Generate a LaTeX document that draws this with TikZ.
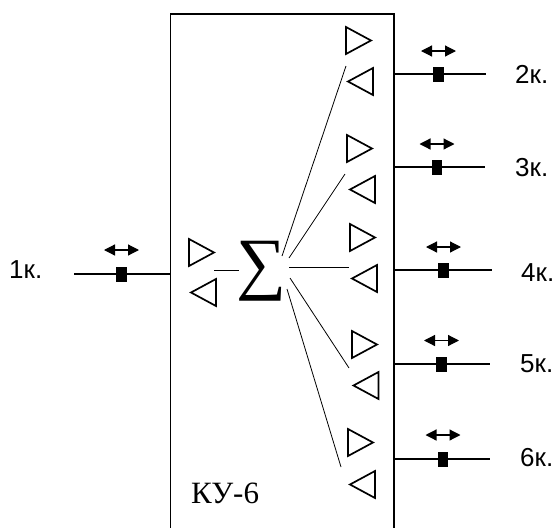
\documentclass[tikz,border=0pt]{standalone}
\usepackage{graphicx}
\usepackage{fontspec}
\setmainfont{Liberation Sans}
\newfontfamily\serifcyr{Liberation Serif}
\usetikzlibrary{arrows.meta}
\tikzset{
  wall/.style={draw=black,line width=1.8pt},
  tri/.style={draw=black,line width=1.7pt,line join=miter},
  ray/.style={draw=black,line width=0.8pt},
  feed/.style={draw=black,line width=1.5pt},
  dirarrow/.style={draw=black,line width=1.2pt,{Triangle[length=11pt,width=11pt]}-{Triangle[length=11pt,width=11pt]}},
  sq/.style={fill=black,draw=none,minimum width=10.5pt,minimum height=15pt,inner sep=0pt},
  portlabel/.style={font=\fontsize{26}{28}\selectfont,inner sep=0pt,anchor=west,text=black},
}
% right pointing triangle: x, top y
\newcommand{\rtri}[2]{\draw[tri] (#1,#2) -- ++(25,13.5) -- ++(-25,13.5) -- cycle;}
\newcommand{\ltri}[2]{\draw[tri] (#1,#2) -- ++(-25,13.5) -- ++(25,13.5) -- cycle;}
% name, wall-end x, line end x, y, square x, arrow y, label position, label
\newcommand{\port}[8]{%
  \coordinate (#1wall) at (#2,#4);
  \coordinate (#1end) at (#3,#4);
  \node[sq] (#1sq) at (#5,#4) {};
  \draw[feed] (#1wall) -- (#1sq) -- (#1end);
  \coordinate (#1al) at (#5-17.5,#6);
  \coordinate (#1ar) at (#5+17.5,#6);
  \draw[dirarrow] (#1al) -- (#1ar);
  \node[portlabel] (#1lab) at (#7) {#8};
}
\begin{document}
\begin{tikzpicture}[x=1pt,y=-1pt]
\useasboundingbox (0,0) rectangle (555,528);
\coordinate (bl) at (170.5,529);
\coordinate (br) at (394,529);
\coordinate (tl) at (170.5,14);
\coordinate (tr) at (394,14);
\draw[wall,line cap=rect] (bl) -- (tl) -- (tr) -- (br);

\port{a}{170.5}{74}{274}{121.5}{250}{9,269.5}{1к.}
\port{b}{394}{486}{74}{438.5}{51}{515,74}{2к.}
\port{c}{394}{485}{167}{437}{144}{515,168}{3к.}
\port{d}{394}{492}{270}{443.5}{247}{521,273}{4к.}
\port{e}{394}{490}{364}{441.5}{340.5}{520,364}{5к.}
\port{f}{394}{490}{459}{443}{435}{520,458}{6к.}

\rtri{189}{239}
\ltri{216}{279}
\rtri{346}{27}
\ltri{373}{68}
\rtri{347}{135}
\ltri{375}{176}
\rtri{350}{224}
\ltri{377}{265}
\rtri{352}{331}
\ltri{378.5}{372}
\rtri{348}{429}
\ltri{375}{471}

\node[inner sep=0pt] (sigma) at (261,271.5) {\resizebox*{50pt}{60pt}{\serifcyr ∑}};

\coordinate (s0) at (214,270);
\coordinate (s0b) at (239,270);
\draw[ray] (s0) -- (s0b);
\coordinate (r1a) at (282,256);
\coordinate (r1b) at (346,66);
\coordinate (r2a) at (289,258);
\coordinate (r2b) at (345,174);
\coordinate (r3a) at (289,267);
\coordinate (r3b) at (349,267);
\coordinate (r4a) at (290,278);
\coordinate (r4b) at (349,368);
\coordinate (r5a) at (287,289);
\coordinate (r5b) at (341,467);
\draw[ray] (r1a) -- (r1b);
\draw[ray] (r2a) -- (r2b);
\draw[ray] (r3a) -- (r3b);
\draw[ray] (r4a) -- (r4b);
\draw[ray] (r5a) -- (r5b);

\node[inner sep=0pt,anchor=base west,font=\serifcyr\fontsize{31}{33}\selectfont] (ku) at (191,503) {КУ-6};
\end{tikzpicture}
\end{document}
